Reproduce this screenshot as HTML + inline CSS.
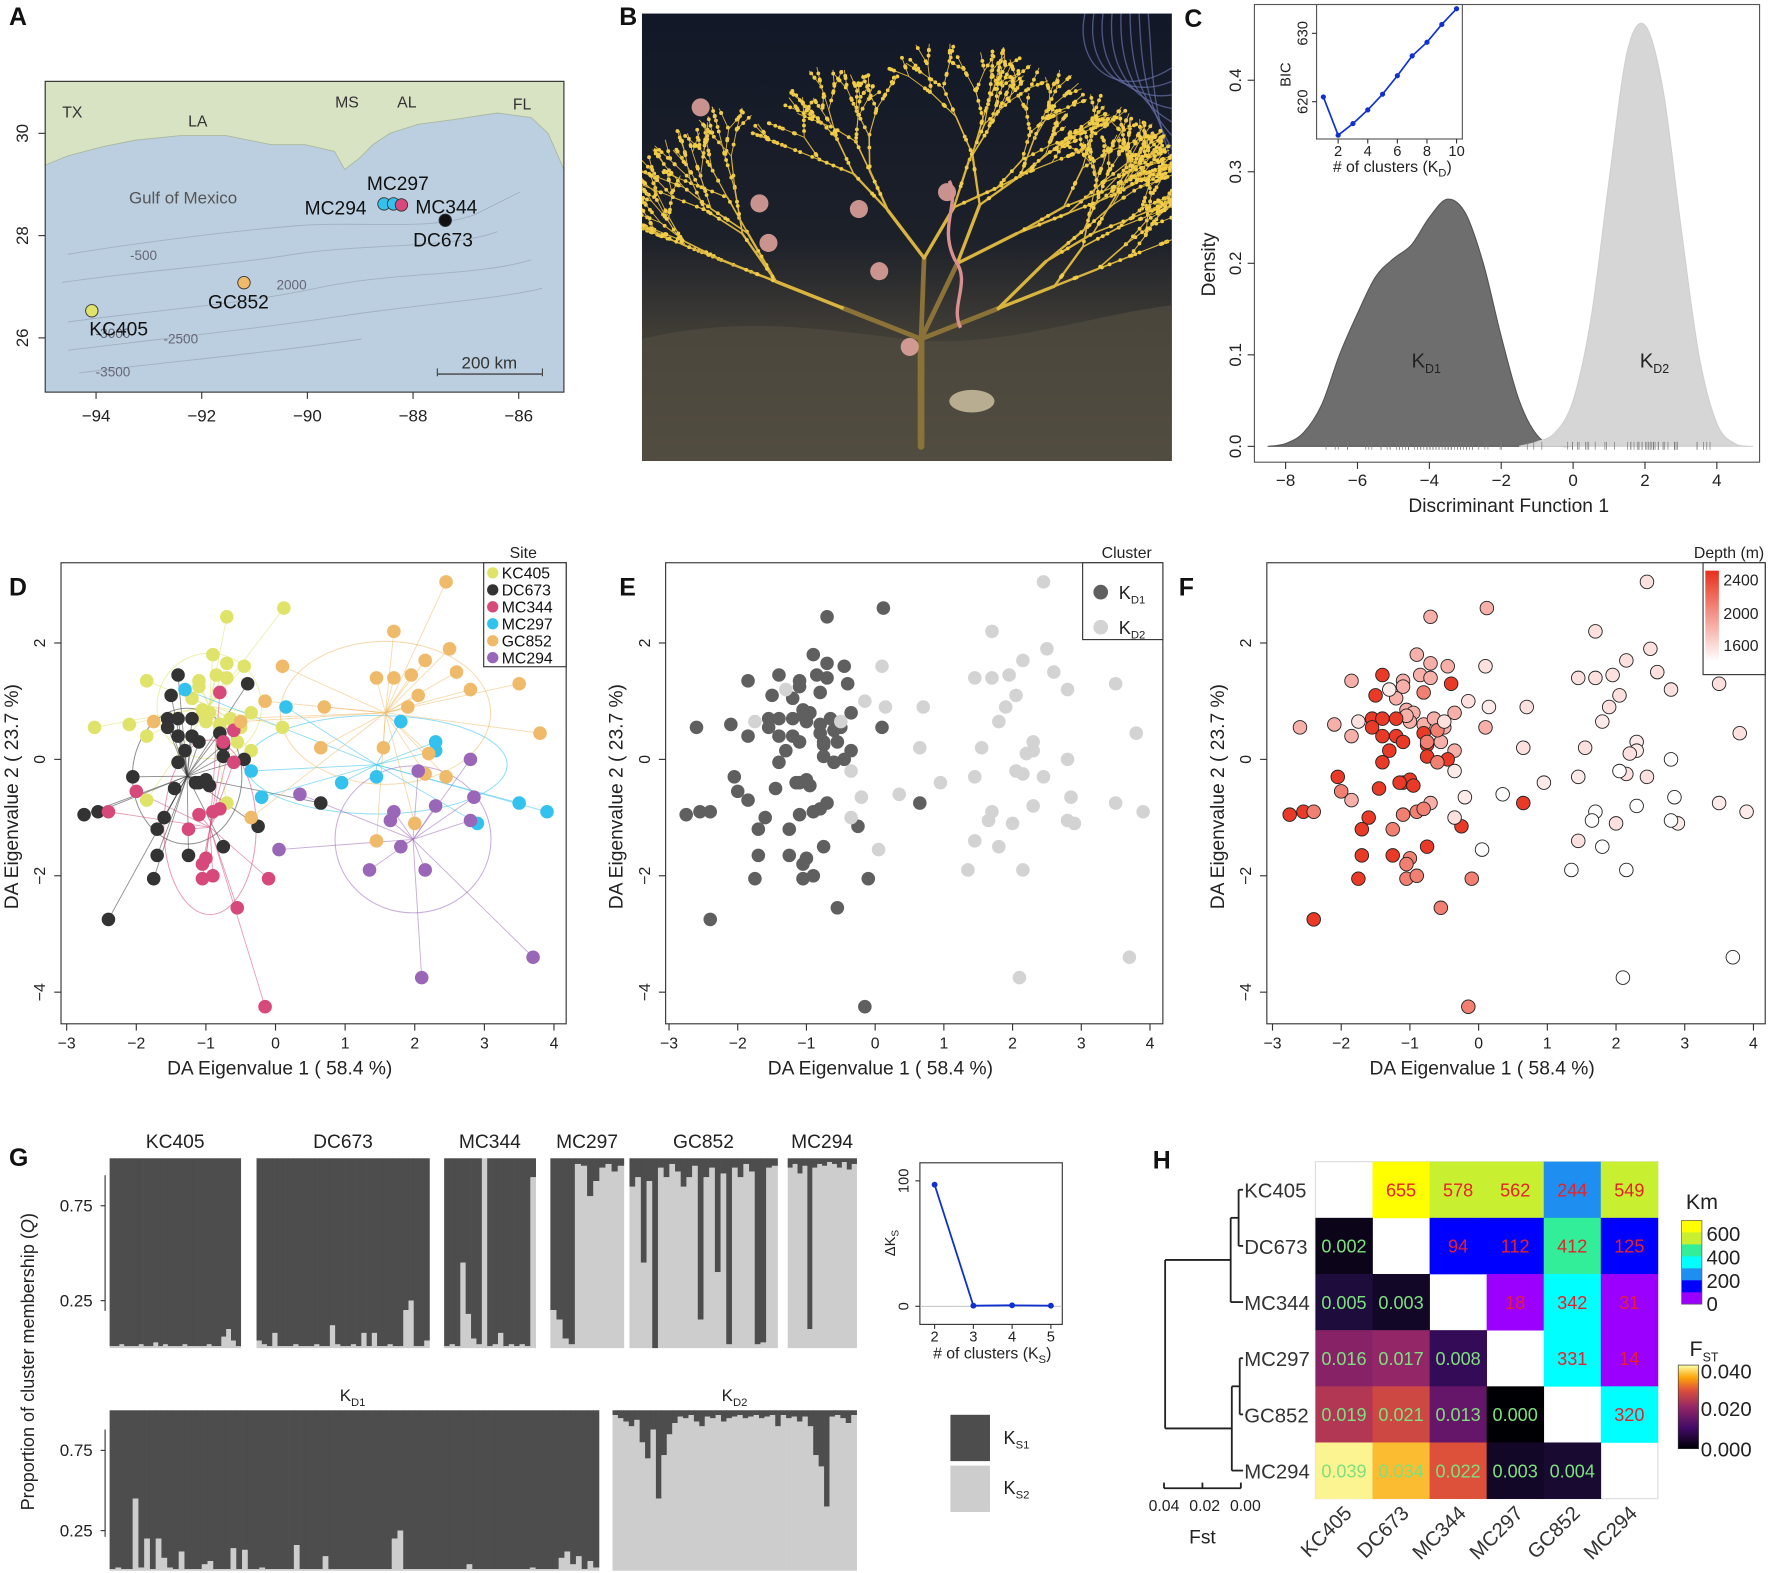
<!DOCTYPE html>
<html><head><meta charset="utf-8"><style>
html,body{margin:0;padding:0;background:#fff;}
svg{display:block;font-family:"Liberation Sans",Arial,sans-serif;}
</style></head><body>
<svg id="fig" width="1772" height="1573" viewBox="0 0 1568 1392" preserveAspectRatio="none" xmlns="http://www.w3.org/2000/svg">
<defs>
<linearGradient id="fstGrad" x1="0" y1="1" x2="0" y2="0">
<stop offset="0" stop-color="#000004"/><stop offset="0.25" stop-color="#420a68"/><stop offset="0.5" stop-color="#932667"/><stop offset="0.7" stop-color="#dd513a"/><stop offset="0.85" stop-color="#fca50a"/><stop offset="1" stop-color="#fcffa4"/>
</linearGradient>
<linearGradient id="depthGrad" x1="0" y1="1" x2="0" y2="0">
<stop offset="0" stop-color="#ffffff"/><stop offset="1" stop-color="#e8301c"/>
</linearGradient>
<linearGradient id="photoBg" x1="0" y1="0" x2="0" y2="1">
<stop offset="0" stop-color="#121828"/><stop offset="0.5" stop-color="#1c2029"/><stop offset="0.7" stop-color="#3e3b35"/><stop offset="1" stop-color="#5e5748"/>
</linearGradient>
<clipPath id="clipD"><rect x="54" y="498" width="447" height="408"/></clipPath>
<clipPath id="clipE"><rect x="589" y="498" width="440" height="408"/></clipPath>
<clipPath id="clipF"><rect x="1121" y="498" width="441" height="408"/></clipPath>
<clipPath id="clipB"><rect x="568" y="12" width="469" height="396"/></clipPath>
</defs>
</svg>
<script>
// ---------------- DATA ----------------
const siteNames = ["KC405","DC673","MC344","MC297","GC852","MC294"];
const siteColors = ["#dfe36a","#333333","#d6497a","#33c2ee","#efbb6a","#9a66b8"];
const siteDepth = [1800,2400,2050,1500,1550,1400];
const kc405 = [[-2.6,0.55],[-2.1,0.6],[-1.85,0.4],[-1.85,1.35],[-0.7,2.45],[-0.9,1.8],[-0.7,1.65],[-0.45,1.6],[-0.85,1.45],[-0.7,1.4],[-1.1,1.35],[-1.1,1.25],[-1.2,1.05],[-1.05,0.85],[-0.95,0.8],[-0.35,0.8],[-1.0,0.65],[-0.8,0.6],[-0.65,0.7],[-0.5,0.55],[-0.55,0.3],[-0.35,0.15],[0.1,0.55],[0.12,2.6],[-1.85,-0.7],[-0.7,-0.75],[-1.05,0.75]];
const dc673 = [[-1.4,1.45],[-1.5,1.1],[-0.4,1.3],[-1.55,0.7],[-1.4,0.7],[-1.2,0.7],[-1.55,0.55],[-1.4,0.4],[-1.2,0.4],[-1.1,0.3],[-0.8,0.45],[-0.75,0.25],[-1.3,0.15],[-1.4,-0.05],[-0.75,0.05],[-0.45,0.0],[-2.05,-0.3],[-1.1,-0.4],[-1.0,-0.35],[-0.95,-0.45],[-1.15,-0.4],[-1.45,-0.5],[-2.75,-0.95],[-2.55,-0.9],[-1.6,-1.0],[-1.7,-1.2],[-0.25,-1.15],[-0.75,-1.5],[-1.25,-1.65],[-1.7,-1.65],[-1.75,-2.05],[-2.4,-2.75],[0.65,-0.75]];
const mc344 = [[-0.8,1.15],[-0.6,0.5],[-0.75,0.3],[-0.6,-0.05],[-2.0,-0.55],[-2.4,-0.9],[-1.1,-0.95],[-0.9,-0.9],[-0.8,-0.85],[-1.25,-1.2],[-1.0,-1.7],[-1.05,-1.8],[-1.05,-2.05],[-0.9,-2.0],[-0.1,-2.05],[-0.55,-2.55],[-0.15,-4.25]];
const mc297 = [[-1.3,1.2],[0.15,0.9],[1.8,0.65],[2.3,0.3],[2.3,0.15],[-0.35,-0.2],[1.45,-0.3],[0.95,-0.4],[-0.2,-0.65],[3.5,-0.75],[3.9,-0.9],[2.9,-1.1]];
const gc852 = [[2.45,3.05],[1.7,2.2],[2.5,1.9],[2.15,1.7],[0.1,1.6],[2.6,1.5],[1.45,1.4],[1.7,1.4],[1.95,1.45],[3.5,1.3],[2.8,1.2],[2.05,1.1],[-0.15,1.0],[0.7,0.9],[1.9,0.9],[-1.75,0.65],[-0.5,0.65],[3.8,0.45],[0.65,0.2],[1.55,0.2],[2.2,0.1],[2.45,-0.3],[2.15,-0.25],[-0.35,-1.0],[2.0,-1.1],[1.45,-1.4]];
const mc294 = [[2.8,0.0],[2.05,-0.2],[0.35,-0.6],[2.85,-0.65],[2.3,-0.8],[1.7,-0.9],[1.65,-1.05],[2.8,-1.05],[0.05,-1.55],[1.8,-1.5],[1.35,-1.9],[2.15,-1.9],[2.1,-3.75],[3.7,-3.4]];
const sitePoints = [kc405,dc673,mc344,mc297,gc852,mc294];
const siteCluster = [1,1,1,2,2,2];
const daTicksX = [-3,-2,-1,0,1,2,3,4];
const daTicksY = [-4,-2,0,2];

const kd1X = [-8.5,-8,-7.5,-7,-6.5,-6,-5.5,-5,-4.5,-4,-3.5,-3,-2.5,-2,-1.5,-1,-0.5,0];
const kd1Y = [0,0.003,0.015,0.045,0.1,0.145,0.185,0.205,0.22,0.25,0.27,0.255,0.2,0.12,0.05,0.012,0.001,0];
const kd2X = [-1.5,-1,-0.5,0,0.5,1,1.5,2,2.5,3,3.5,4,4.5,5];
const kd2Y = [0,0.005,0.015,0.05,0.14,0.29,0.43,0.46,0.39,0.24,0.1,0.025,0.003,0];
const densTicksX = [-8,-6,-4,-2,0,2,4];
const densTicksY = [0,0.1,0.2,0.3,0.4];
const bicK = [1,2,3,4,5,6,7,8,9,10];
const bicVal = [620.7,615.1,616.8,618.8,621.1,623.8,626.7,628.7,631.3,633.6];

const kc405Q = [0.01,0.01,0.02,0.01,0.01,0.01,0.02,0.01,0.01,0.03,0.01,0.02,0.01,0.01,0.01,0.02,0.01,0.01,0.01,0.01,0.02,0.01,0.01,0.06,0.1,0.04,0.01];
const dc673Q = [0.04,0.02,0.01,0.08,0.01,0.01,0.01,0.02,0.01,0.01,0.01,0.02,0.01,0.01,0.12,0.02,0.01,0.01,0.02,0.01,0.08,0.01,0.08,0.01,0.01,0.02,0.01,0.01,0.2,0.25,0.01,0.01,0.04];
const mc344Q = [0.01,0.02,0.01,0.45,0.18,0.05,0.02,1.0,0.01,0.02,0.08,0.01,0.02,0.01,0.02,0.01,0.9];
const mc297Q = [0.2,0.15,0.05,0.02,0.97,0.96,0.8,0.88,0.95,0.97,0.93,0.96];
const gc852Q = [0.85,0.9,0.45,0.88,0.0,0.95,0.9,0.97,0.93,0.85,0.9,0.96,0.15,0.9,0.95,0.4,0.92,0.02,0.95,0.9,0.97,0.93,0.02,0.03,0.95,0.96];
const mc294Q = [0.95,0.97,0.92,0.96,0.1,0.95,0.97,0.96,0.98,0.97,0.95,0.98,0.94,0.97];
const kd1Q = [0.01,0.02,0.01,0.01,0.45,0.02,0.2,0.01,0.2,0.08,0.02,0.01,0.12,0.01,0.01,0.01,0.04,0.06,0.01,0.01,0.01,0.14,0.01,0.13,0.01,0.01,0.02,0.01,0.01,0.01,0.01,0.01,0.16,0.01,0.01,0.01,0.01,0.09,0.01,0.01,0.01,0.01,0.01,0.01,0.01,0.01,0.01,0.01,0.01,0.2,0.25,0.01,0.01,0.01,0.01,0.01,0.01,0.01,0.01,0.01,0.01,0.01,0.04,0.01,0.01,0.01,0.01,0.01,0.01,0.01,0.01,0.01,0.01,0.02,0.01,0.01,0.01,0.01,0.08,0.12,0.04,0.09,0.01,0.06,0.02];
const kd2Q = [0.97,0.95,0.93,0.9,0.94,0.8,0.7,0.88,0.45,0.72,0.85,0.92,0.96,0.95,0.97,0.93,0.9,0.96,0.95,0.97,0.93,0.95,0.96,0.97,0.95,0.96,0.97,0.95,0.96,0.97,0.9,0.97,0.95,0.96,0.93,0.96,0.9,0.72,0.65,0.4,0.96,0.97,0.95,0.92,0.97];
const deltaK = [2,3,4,5];
const deltaKVal = [97,0.5,0.8,0.5];

const heatKm = [[null,655,578,562,244,549],[null,null,94,112,412,125],[null,null,null,18,342,31],[null,null,null,null,331,14],[null,null,null,null,null,320],[null,null,null,null,null,null]];
const heatFst = [[null],[0.002],[0.005,0.003],[0.016,0.017,0.008],[0.019,0.021,0.013,0.000],[0.039,0.034,0.022,0.003,0.004]];

const mapSites = [["KC405",-94.08,26.53],["GC852",-91.2,27.08],["MC294",-88.55,28.62],["MC297",-88.37,28.62],["MC344",-88.22,28.6],["DC673",-87.39,28.3]];

// ---------------- HELPERS ----------------
const svg = document.getElementById('fig');
const NS = 'http://www.w3.org/2000/svg';
function mk(tag, attrs, parent){ const e=document.createElementNS(NS,tag); for(const k in attrs) e.setAttribute(k,attrs[k]); (parent||svg).appendChild(e); return e; }
function txt(x,y,s,size,opts,parent){ opts=opts||{}; const e=mk('text',Object.assign({x:x,y:y,'font-size':size,fill:opts.fill||'#222','text-anchor':opts.anchor||'middle'},opts.attrs||{}),parent); e.textContent=s; return e; }
function smooth(pts){ let d='M'+pts[0][0]+','+pts[0][1]; for(let i=0;i<pts.length-1;i++){ const p0=pts[i-1]||pts[i],p1=pts[i],p2=pts[i+1],p3=pts[i+2]||p2; const c1=[p1[0]+(p2[0]-p0[0])/6,p1[1]+(p2[1]-p0[1])/6], c2=[p2[0]-(p3[0]-p1[0])/6,p2[1]-(p3[1]-p1[1])/6]; d+=' C'+c1[0]+','+c1[1]+' '+c2[0]+','+c2[1]+' '+p2[0]+','+p2[1]; } return d; }

[["A",8,22],["B",548,22],["C",1048,24],["D",8,527],["E",548,527],["F",1043,527],["G",8,1032],["H",1020,1034]].forEach(l=>{
  const t=txt(l[1],l[2],l[0],22,{anchor:'start',fill:'#111',attrs:{'font-weight':'bold'}});
  
  
});

// ---------------- PANEL A: MAP ----------------
(function(){
  const g=mk('g',{});
  
  
  const lx=lon=>85+(lon+94)*46.75, ly=lat=>299-(lat-26)*45.25;
  mk('rect',{x:40,y:72,width:459,height:275,fill:'#bccfe0'},g);
  const land=mk('path',{d:'M40,72 L499,72 L499,150 L485,118 L470,104 L440,100 L400,106 L370,110 L345,118 L330,128 L318,140 L305,150 L296,134 L270,128 L240,128 L200,120 L160,120 L120,124 L90,130 L60,138 L40,146 Z',fill:'#d8e3c3',stroke:'#a9b8a0','stroke-width':0.8},g);
  
  
  ['M60,225 C120,215 200,205 260,200 C320,195 380,205 420,190 L460,170','M55,250 C120,240 200,235 260,225 C330,215 400,220 440,205','M60,285 C130,275 210,270 280,255 C350,240 420,245 470,230','M60,310 C140,300 220,292 300,280 C380,268 440,265 480,255','M70,330 C150,320 240,312 320,300'].forEach(d=>mk('path',{d:d,fill:'none',stroke:'#9aa9b8','stroke-width':0.8,opacity:0.8},g));
  mk('rect',{x:40,y:72,width:459,height:275,fill:'none',stroke:'#333','stroke-width':1},g);
  [["TX",64,104],["LA",175,112],["MS",307,95],["AL",360,95],["FL",462,97]].forEach(s=>txt(s[1],s[2],s[0],14,{fill:'#333'},g));
  txt(162,180,'Gulf of Mexico',15,{fill:'#555'},g);
  [["-500",127,230],["2000",258,256],["-2500",160,304],["-3500",100,333],["-3000",100,299]].forEach(s=>txt(s[1],s[2],s[0],12,{fill:'#667'},g));
  mk('line',{x1:387,y1:331,x2:480,y2:331,stroke:'#444','stroke-width':1.2},g);
  mk('line',{x1:387,y1:326,x2:387,y2:333,stroke:'#444'},g);
  mk('line',{x1:480,y1:326,x2:480,y2:333,stroke:'#444'},g);
  txt(433,326,'200 km',15,{fill:'#333'},g);
  [-94,-92,-90,-88,-86].forEach(v=>{ mk('line',{x1:lx(v),y1:347,x2:lx(v),y2:353,stroke:'#333'},g); txt(lx(v),373,'\u2212'+Math.abs(v),15,{},g); });
  [26,28,30].forEach(v=>{ mk('line',{x1:34,y1:ly(v),x2:40,y2:ly(v),stroke:'#333'},g); txt(25,ly(v),String(v),15,{attrs:{transform:'rotate(-90 25 '+ly(v)+')'}},g); });
  const cols={"KC405":"#dfe36a","GC852":"#efbb6a","MC294":"#33c2ee","MC297":"#33c2ee","MC344":"#d6497a","DC673":"#111"};
  mapSites.forEach(s=>{ const c=mk('circle',{cx:lx(s[1]),cy:ly(s[2]),r:5.5,fill:cols[s[0]],stroke:'#333','stroke-width':0.8},g);
    
     });
  [["MC297",352,168],["MC294",297,190],["MC344",395,189],["DC673",392,218],["GC852",211,273],["KC405",105,297]].forEach(s=>txt(s[1],s[2],s[0],17,{fill:'#111'},g));
})();

// ---------------- PANEL B: PHOTO ----------------
(function(){
  const g=mk('g',{'clip-path':'url(#clipB)'});
  
  
  mk('rect',{x:568,y:12,width:469,height:396,fill:'url(#photoBg)'},g);
  mk('path',{d:'M568,300 C650,280 720,290 800,300 C880,310 960,280 1037,270 L1037,408 L568,408 Z',fill:'#4f4a3e',opacity:0.8},g);
  for(let i=0;i<8;i++){ mk('path',{d:'M'+(960+i*8)+',12 C'+(950+i*10)+',60 '+(990+i*4)+',90 '+(1037)+','+(60+i*12),fill:'none',stroke:'#6670a8','stroke-width':1.2,opacity:0.7},g); }
  let seed=11; const rnd=()=>{ seed=(seed*16807)%2147483647; return seed/2147483647; };
  function branch(x,y,ang,len,w,depth){
    ang=Math.max(0.12*Math.PI,Math.min(0.88*Math.PI,ang));
    const x2=x+Math.cos(ang)*len, y2=y-Math.sin(ang)*len;
    mk('line',{x1:x,y1:y,x2:x2,y2:y2,stroke:depth<2?'#8a7238':'#d9b43e','stroke-width':w,'stroke-linecap':'round'},g);
    if(depth>=3){ for(let k=0;k<3;k++){ const t=rnd(); mk('circle',{cx:x+(x2-x)*t,cy:y+(y2-y)*t,r:1.7,fill:'#f0cc48'},g); } }
    if(depth>=7) return;
    const n=depth<1?4:2;
    for(let i=0;i<n;i++){ const da=(rnd()-0.5)*0.8+(i-(n-1)/2)*(depth<1?0.55:0.6); branch(x2,y2,ang+da,len*(0.72+rnd()*0.12),Math.max(0.8,w*0.7),depth+1); }
  }
  branch(815,395,Math.PI/2,95,6,0);
  [[620,95],[672,180],[680,215],[778,240],[805,307],[838,170],[760,185]].forEach(p=>mk('circle',{cx:p[0],cy:p[1],r:8,fill:'#e8a8a0',opacity:0.85},g));
  mk('path',{d:'M840,160 C850,180 830,200 845,230 C860,250 840,270 850,290',fill:'none',stroke:'#d89090','stroke-width':3},g);
  mk('ellipse',{cx:860,cy:355,rx:20,ry:10,fill:'#b8ad90'},g);
})();

// ---------------- PANEL C: DENSITY ----------------
(function(){
  const g=mk('g',{});
  
  
  const X=v=>1392+v*31.8, Y=v=>395-v*810;
  mk('rect',{x:1110,y:4,width:447,height:405,fill:'none',stroke:'#555'},g);
  function area(xs,ys,fill,name,stroke){ const pts=xs.map((x,i)=>[X(x),Y(ys[i])]); const d=smooth(pts)+' L'+X(xs[xs.length-1])+','+Y(0)+' L'+X(xs[0])+','+Y(0)+' Z';
    const p=mk('path',{d:d,fill:fill,stroke:stroke,'stroke-width':1},g);
    
     }
  area(kd1X,kd1Y,'#6e6e6e','density-kd1','#555');
  area(kd2X,kd2Y,'#d6d6d6','density-kd2','#d0d0d0');
  sitePoints.forEach((pts,si)=>pts.forEach(p=>{ const v=siteCluster[si]===1?(p[0]*1.7-2.2):(p[0]*0.9+0.3); mk('line',{x1:X(v),y1:391,x2:X(v),y2:398,stroke:'#777','stroke-width':0.6},g); }));
  densTicksX.forEach(v=>{ mk('line',{x1:X(v),y1:409,x2:X(v),y2:415,stroke:'#333'},g); txt(X(v),430,(v<0?'\u2212':'')+Math.abs(v),15,{},g); });
  densTicksY.forEach(v=>{ mk('line',{x1:1104,y1:Y(v),x2:1110,y2:Y(v),stroke:'#333'},g); txt(1098,Y(v),v.toFixed(1),15,{attrs:{transform:'rotate(-90 1098 '+Y(v)+')'}},g); });
  txt(1335,453,'Discriminant Function 1',17,{},g);
  txt(1075,234,'Density',17,{attrs:{transform:'rotate(-90 1075 234)'}},g);
  const t1=txt(1262,325,'K',18,{},g); const s1=mk('tspan',{dy:5,'font-size':11},t1); s1.textContent='D1';
  const t2=txt(1464,325,'K',18,{},g); const s2=mk('tspan',{dy:5,'font-size':11},t2); s2.textContent='D2';
  const IX=k=>1171+(k-1)*13.1, IY=v=>90-(v-620)*6.05;
  mk('rect',{x:1165,y:4,width:129,height:119,fill:'#fff',stroke:'#555'},g);
  mk('path',{d:bicK.map((k,i)=>(i?'L':'M')+IX(k)+','+IY(bicVal[i])).join(' '),fill:'none',stroke:'#1030d0','stroke-width':1.5},g);
  bicK.forEach((k,i)=>{ const c=mk('circle',{cx:IX(k),cy:IY(bicVal[i]),r:2.3,fill:'#1030d0'},g);
    
     });
  [2,4,6,8,10].forEach(k=>{ mk('line',{x1:IX(k),y1:123,x2:IX(k),y2:127,stroke:'#333'},g); txt(IX(k),138,String(k),13,{},g); });
  [620,630].forEach(v=>{ mk('line',{x1:1161,y1:IY(v),x2:1165,y2:IY(v),stroke:'#333'},g); txt(1157,IY(v),String(v),13,{attrs:{transform:'rotate(-90 1157 '+IY(v)+')'}},g); });
  txt(1142,66,'BIC',13,{attrs:{transform:'rotate(-90 1142 66)'}},g);
  const t3=txt(1232,152,'# of clusters (K',14,{},g); const s3=mk('tspan',{dy:4,'font-size':10},t3); s3.textContent='D'; const s4=mk('tspan',{dy:-4},t3); s4.textContent=')';
})();

// ---------------- PANELS D/E/F ----------------
function scatterPanel(opt){
  const g=mk('g',{});
  
  
  const X=v=>opt.x0+(v+3)*opt.sx, Y=v=>672-v*51.5;
  mk('rect',{x:opt.bx,y:498,width:opt.bw,height:408,fill:'none',stroke:'#333'},g);
  daTicksX.forEach(v=>{ mk('line',{x1:X(v),y1:906,x2:X(v),y2:912,stroke:'#333'},g); txt(X(v),928,(v<0?'\u2212':'')+Math.abs(v),14,{},g); });
  daTicksY.forEach(v=>{ mk('line',{x1:opt.bx-6,y1:Y(v),x2:opt.bx,y2:Y(v),stroke:'#333'},g); const tx=opt.bx-14; txt(tx,Y(v),(v<0?'\u2212':'')+Math.abs(v),14,{attrs:{transform:'rotate(-90 '+tx+' '+Y(v)+')'}},g); });
  txt(opt.bx+opt.bw/2-30,951,'DA Eigenvalue 1 ( 58.4 %)',17,{},g);
  const yl=opt.bx-38; txt(yl,705,'DA Eigenvalue 2 ( 23.7 %)',17,{attrs:{transform:'rotate(-90 '+yl+' 705)'}},g);
  const pg=mk('g',{'clip-path':'url(#'+opt.clip+')'},g);
  if(opt.star){
    sitePoints.forEach((pts,si)=>{
      const mx=pts.reduce((a,p)=>a+p[0],0)/pts.length, my=pts.reduce((a,p)=>a+p[1],0)/pts.length;
      const sx=Math.sqrt(pts.reduce((a,p)=>a+(p[0]-mx)**2,0)/pts.length), sy=Math.sqrt(pts.reduce((a,p)=>a+(p[1]-my)**2,0)/pts.length);
      const el=mk('ellipse',{cx:X(mx),cy:Y(my),rx:sx*1.2*opt.sx,ry:sy*1.2*51.5,fill:'none',stroke:siteColors[si],'stroke-width':0.9,opacity:0.55},pg);
      
      
      pts.forEach(p=>mk('line',{x1:X(mx),y1:Y(my),x2:X(p[0]),y2:Y(p[1]),stroke:siteColors[si],'stroke-width':0.8,opacity:0.55},pg));
    });
  }
  sitePoints.forEach((pts,si)=>pts.forEach(p=>{
    const c=mk('circle',{cx:X(p[0]),cy:Y(p[1]),r:6,fill:opt.fill(si),stroke:opt.stroke||'none','stroke-width':0.8},pg);
    
    
  }));
  return g;
}
scatterPanel({name:'panel-d-scatter-site',x0:59,sx:61.6,bx:54,bw:447,clip:'clipD',star:true,fill:si=>siteColors[si]});
scatterPanel({name:'panel-e-scatter-cluster',x0:592,sx:60.8,bx:589,bw:440,clip:'clipE',fill:si=>siteCluster[si]===1?'#5f5f5f':'#d3d3d3'});
function depthColor(d){ const t=Math.max(0,Math.min(1,(d-1400)/1050)); const r=255-Math.round(t*23), gg=255-Math.round(t*207), b=255-Math.round(t*227); return 'rgb('+r+','+gg+','+b+')'; }
scatterPanel({name:'panel-f-scatter-depth',x0:1126,sx:60.8,bx:1121,bw:441,clip:'clipF',fill:si=>depthColor(siteDepth[si]),stroke:'#222'});
(function(){
  const g=mk('g',{});  
  mk('rect',{x:428,y:498,width:73,height:92,fill:'#fff',stroke:'#333'},g);
  txt(463,494,'Site',14,{},g);
  siteNames.forEach((n,i)=>{ mk('circle',{cx:436,cy:507+i*15,r:5,fill:siteColors[i]},g); txt(444,512+i*15,n,14,{anchor:'start',fill:'#111'},g); });
})();
(function(){
  const g=mk('g',{});  
  mk('rect',{x:958,y:498,width:71,height:68,fill:'#fff',stroke:'#333'},g);
  txt(997,494,'Cluster',14,{},g);
  [['D1','#5f5f5f',524],['D2','#d3d3d3',555]].forEach(e=>{ mk('circle',{cx:974,cy:e[2],r:6.5,fill:e[1]},g); const t=txt(990,e[2]+6,'K',16,{anchor:'start'},g); const s=mk('tspan',{dy:4,'font-size':10},t); s.textContent=e[0]; });
})();
(function(){
  const g=mk('g',{});  
  mk('rect',{x:1507,y:498,width:55,height:99,fill:'#fff',stroke:'#333'},g);
  txt(1530,494,'Depth (m)',14,{},g);
  mk('rect',{x:1509,y:505,width:12,height:80,fill:'url(#depthGrad)'},g);
  [["2400",518],["2000",548],["1600",576]].forEach(l=>txt(1525,l[1],l[0],14,{anchor:'start'},g));
})();

// ---------------- PANEL G ----------------
(function(){
  const g=mk('g',{});  
  function bars(arr,x0,x1,top,bottom,name){
    const w=(x1-x0)/arr.length;
    arr.forEach((q,i)=>{
      const yb=bottom-q*(bottom-top);
      const d=mk('rect',{x:x0+i*w,y:top,width:w+0.3,height:yb-top,fill:'#4d4d4d'},g);
      
      
      const l=mk('rect',{x:x0+i*w,y:yb,width:w+0.3,height:bottom-yb,fill:'#cdcdcd'},g);
      
      
    });
  }
  const topGroups=[[kc405Q,97,213,'KC405'],[dc673Q,227,380,'DC673'],[mc344Q,393,474,'MC344'],[mc297Q,487,552,'MC297'],[gc852Q,557,688,'GC852'],[mc294Q,697,758,'MC294']];
  topGroups.forEach(t=>{ bars(t[0],t[1],t[2],1025,1193,t[3].toLowerCase()); txt((t[1]+t[2])/2,1016,t[3],17,{},g); });
  bars(kd1Q,97,530,1248,1390,'kd1');
  bars(kd2Q,542,758,1248,1390,'kd2');
  let t=txt(312,1240,'K',15,{},g); let s=mk('tspan',{dy:4,'font-size':10},t); s.textContent='D1';
  t=txt(650,1240,'K',15,{},g); s=mk('tspan',{dy:4,'font-size':10},t); s.textContent='D2';
  [[0.75,1193-0.75*168],[0.25,1193-0.25*168]].forEach(v=>{ mk('line',{x1:89,y1:v[1],x2:93,y2:v[1],stroke:'#333'},g); txt(82,v[1]+5,v[0].toFixed(2),15,{anchor:'end'},g); });
  [[0.75,1390-0.75*142],[0.25,1390-0.25*142]].forEach(v=>{ mk('line',{x1:89,y1:v[1],x2:93,y2:v[1],stroke:'#333'},g); txt(82,v[1]+5,v[0].toFixed(2),15,{anchor:'end'},g); });
  mk('line',{x1:93,y1:1040,x2:93,y2:1160,stroke:'#333'},g);
  mk('line',{x1:93,y1:1265,x2:93,y2:1360,stroke:'#333'},g);
  t=txt(30,1205,'Proportion of cluster membership (',16,{attrs:{transform:'rotate(-90 30 1205)'}},g); s=mk('tspan',{'font-style':'italic'},t); s.textContent='Q'; s=mk('tspan',{},t); s.textContent=')';
  const DX=k=>827+(k-2)*34.3, DY=v=>1156-v*1.11;
  mk('rect',{x:814,y:1029,width:126,height:143,fill:'#fff',stroke:'#333'},g);
  mk('line',{x1:814,y1:DY(0),x2:940,y2:DY(0),stroke:'#bbb','stroke-width':0.8},g);
  mk('path',{d:deltaK.map((k,i)=>(i?'L':'M')+DX(k)+','+DY(deltaKVal[i])).join(' '),fill:'none',stroke:'#1030d0','stroke-width':1.6},g);
  deltaK.forEach((k,i)=>{ const c=mk('circle',{cx:DX(k),cy:DY(deltaKVal[i]),r:2.6,fill:'#1030d0'},g);
    
    
    mk('line',{x1:DX(k),y1:1172,x2:DX(k),y2:1176,stroke:'#333'},g); txt(DX(k),1187,String(k),13,{},g); });
  [[0,DY(0)],[100,DY(100)]].forEach(v=>{ mk('line',{x1:810,y1:v[1],x2:814,y2:v[1],stroke:'#333'},g); txt(804,v[1],String(v[0]),13,{attrs:{transform:'rotate(-90 804 '+v[1]+')'}},g); });
  t=txt(792,1100,'\u0394K',13,{attrs:{transform:'rotate(-90 792 1100)'}},g); s=mk('tspan',{dy:3,'font-size':9},t); s.textContent='S';
  t=txt(878,1202,'# of clusters (K',14,{},g); s=mk('tspan',{dy:4,'font-size':10},t); s.textContent='S'; s=mk('tspan',{dy:-4},t); s.textContent=')';
  mk('rect',{x:841,y:1252,width:35,height:41,fill:'#4d4d4d'},g);
  mk('rect',{x:841,y:1297,width:35,height:41,fill:'#cdcdcd'},g);
  t=txt(888,1278,'K',16,{anchor:'start'},g); s=mk('tspan',{dy:4,'font-size':10},t); s.textContent='S1';
  t=txt(888,1322,'K',16,{anchor:'start'},g); s=mk('tspan',{dy:4,'font-size':10},t); s.textContent='S2';
})();

// ---------------- PANEL H ----------------
(function(){
  const g=mk('g',{});  
  const x0=1164,y0=1028,cw=50.5,ch=49.7;
  function kmColor(v){ if(v<80) return '#9b00ff'; if(v<200) return '#0000ff'; if(v<300) return '#1e8ff0'; if(v<400) return '#00ffff'; if(v<500) return '#33ee99'; if(v<620) return '#c8f030'; return '#ffff00'; }
  function fstColor(v){ const stops=[[0,[0,0,4]],[0.005,[30,12,60]],[0.01,[66,10,104]],[0.017,[147,38,103]],[0.022,[221,81,58]],[0.032,[252,165,10]],[0.04,[252,255,164]]];
    for(let i=0;i<stops.length-1;i++){ if(v<=stops[i+1][0]){ const t=(v-stops[i][0])/(stops[i+1][0]-stops[i][0]); const a=stops[i][1],b=stops[i+1][1]; return 'rgb('+a.map((c,j)=>Math.round(c+(b[j]-c)*t)).join(',')+')'; } } return 'rgb(252,255,164)'; }
  mk('rect',{x:x0,y:y0,width:cw*6,height:ch*6,fill:'#fff',stroke:'#ddd'},g);
  for(let r=0;r<6;r++) for(let c=0;c<6;c++){
    const x=x0+c*cw,y=y0+r*ch;
    if(c>r && heatKm[r][c]!=null){ const v=heatKm[r][c]; const rc=mk('rect',{x:x,y:y,width:cw+0.3,height:ch+0.3,fill:kmColor(v)},g);
      
      
      txt(x+cw/2,y+ch/2+6,String(v),16,{fill:'#e8202a'},g); }
    else if(c<r && heatFst[r][c]!=null){ const v=heatFst[r][c]; const rc=mk('rect',{x:x,y:y,width:cw+0.3,height:ch+0.3,fill:fstColor(v)},g);
      
      
      txt(x+cw/2,y+ch/2+6,v.toFixed(3),16,{fill:'#7ee07e'},g); }
  }
  siteNames.forEach((n,i)=>{ txt(1101,y0+i*ch+ch/2+7,n,18,{anchor:'start',fill:'#333'},g);
    const cx=x0+i*cw+cw/2+8, cy=y0+6*ch+14; txt(cx,cy,n,18,{anchor:'end',fill:'#333',attrs:{transform:'rotate(-45 '+cx+' '+cy+')'}},g); });
  const L=(a,b,c,d)=>mk('line',{x1:a,y1:b,x2:c,y2:d,stroke:'#222','stroke-width':1.6},g);
  const yr=i=>y0+i*ch+ch/2;
  L(1096,yr(0),1100,yr(0)); L(1096,yr(1),1100,yr(1)); L(1096,yr(0),1096,yr(1));
  L(1089,(yr(0)+yr(1))/2,1096,(yr(0)+yr(1))/2); L(1089,yr(2),1100,yr(2)); L(1089,(yr(0)+yr(1))/2,1089,yr(2));
  L(1097,yr(3),1100,yr(3)); L(1097,yr(4),1100,yr(4)); L(1097,yr(3),1097,yr(4));
  L(1090,(yr(3)+yr(4))/2,1097,(yr(3)+yr(4))/2); L(1090,yr(5),1100,yr(5)); L(1090,(yr(3)+yr(4))/2,1090,yr(5));
  const ta=((yr(0)+yr(1))/2+yr(2))/2, tb=((yr(3)+yr(4))/2+yr(5))/2;
  L(1031,ta,1089,ta); L(1031,tb,1090,tb); L(1031,ta,1031,tb);
  L(1030,1317,1098,1317); [1030,1064,1098].forEach(x=>L(x,1312,x,1317));
  [["0.04",1030],["0.02",1066],["0.00",1102]].forEach(l=>txt(l[1],1337,l[0],14,{},g));
  txt(1064,1366,'Fst',17,{},g);
  txt(1506,1070,'Km',19,{},g);
  [['#ffff00'],['#c8f030'],['#33ee99'],['#00ffff'],['#1e8ff0'],['#0000ff'],['#9b00ff']].forEach((s,i)=>mk('rect',{x:1488,y:1080+i*10.6,width:18,height:10.8,fill:s[0]},g));
  mk('rect',{x:1488,y:1080,width:18,height:74,fill:'none',stroke:'#555','stroke-width':0.6},g);
  [["600",1098],["400",1119],["200",1140],["0",1160]].forEach(l=>txt(1510,l[1],l[0],18,{anchor:'start'},g));
  let t=txt(1495,1200,'F',19,{anchor:'start'},g); let s=mk('tspan',{dy:5,'font-size':11},t); s.textContent='ST';
  mk('rect',{x:1485,y:1208,width:18,height:74,fill:'url(#fstGrad)',stroke:'#333','stroke-width':0.6},g);
  [["0.040",1220],["0.020",1253],["0.000",1289]].forEach(l=>txt(1505,l[1],l[0],18,{anchor:'start'},g));
})();
</script>
</body></html>
